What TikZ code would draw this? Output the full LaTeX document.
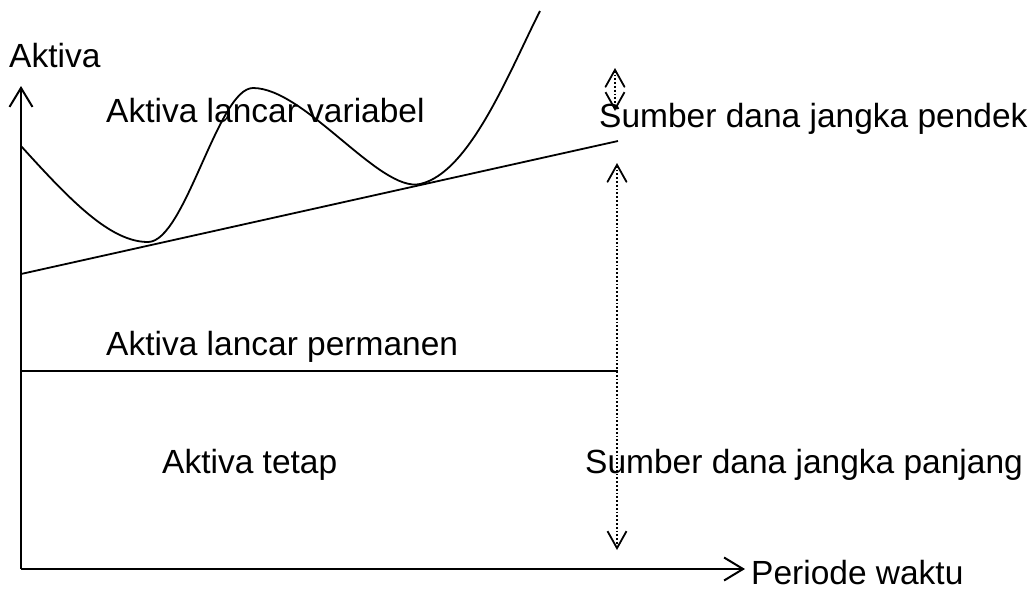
\documentclass[tikz,border=0pt]{standalone}
\usepackage{fontspec}
\setmainfont{Liberation Sans}
\usetikzlibrary{arrows.meta}
\begin{document}
\begin{tikzpicture}[x=1pt,y=-1pt,
  lbl/.style={anchor=base west,inner sep=0pt,font=\fontsize{33.5}{40}\selectfont},
  axis/.style={line width=2pt,-{Straight Barb[length=19pt,width=23pt,line width=2pt]}},
  curve/.style={line width=1.8pt},
  dots/.style={line width=1.8pt,dotted,{Straight Barb[length=17pt,width=19pt,line width=1.8pt,line cap=round]}-{Straight Barb[length=17pt,width=19pt,line width=1.8pt]}}]
\useasboundingbox (0,0) rectangle (1031,590);
% coordinates
\coordinate (O) at (21,569);
\coordinate (ytip) at (21,86);
\coordinate (xtip) at (745,569);
\coordinate (L1) at (21,274);
\coordinate (L2) at (618,141);
\coordinate (H1) at (21,371);
\coordinate (H2) at (618,371);
\coordinate (c0) at (21,146);
\coordinate (c1) at (148,242);
\coordinate (c2) at (253,88);
\coordinate (c3) at (420,184);
\coordinate (c4) at (540,11);
\coordinate (a1t) at (615,68);
\coordinate (a1b) at (615,111);
\coordinate (a2t) at (617,163);
\coordinate (a2b) at (617,550);
% axes
\draw[axis] (O) -- (ytip);
\draw[axis] (O) -- (xtip);
% lines
\draw[curve] (L1) -- (L2);
\draw[curve] (H1) -- (H2);
\draw[curve] (c0) .. controls (70,200) and (110,242) .. (c1)
  .. controls (185,242) and (218,88) .. (c2)
  .. controls (305,88) and (380,193) .. (c3)
  .. controls (470,173) and (510,70) .. (c4);
% dotted arrows
\draw[dots] (a1t) -- (a1b);
\draw[dots] (a2t) -- (a2b);
% labels
\node[lbl] (ya) at (9,67) {Aktiva};
\node[lbl] (alv) at (106,122) {Aktiva lancar variabel};
\node[lbl] (sdp) at (599,127) {Sumber dana jangka pendek};
\node[lbl] (alp) at (106,355) {Aktiva lancar permanen};
\node[lbl] (at) at (162,473) {Aktiva tetap};
\node[lbl] (sdj) at (585,473) {Sumber dana jangka panjang};
\node[lbl] (pw) at (751,584) {Periode waktu};
\end{tikzpicture}
\end{document}
